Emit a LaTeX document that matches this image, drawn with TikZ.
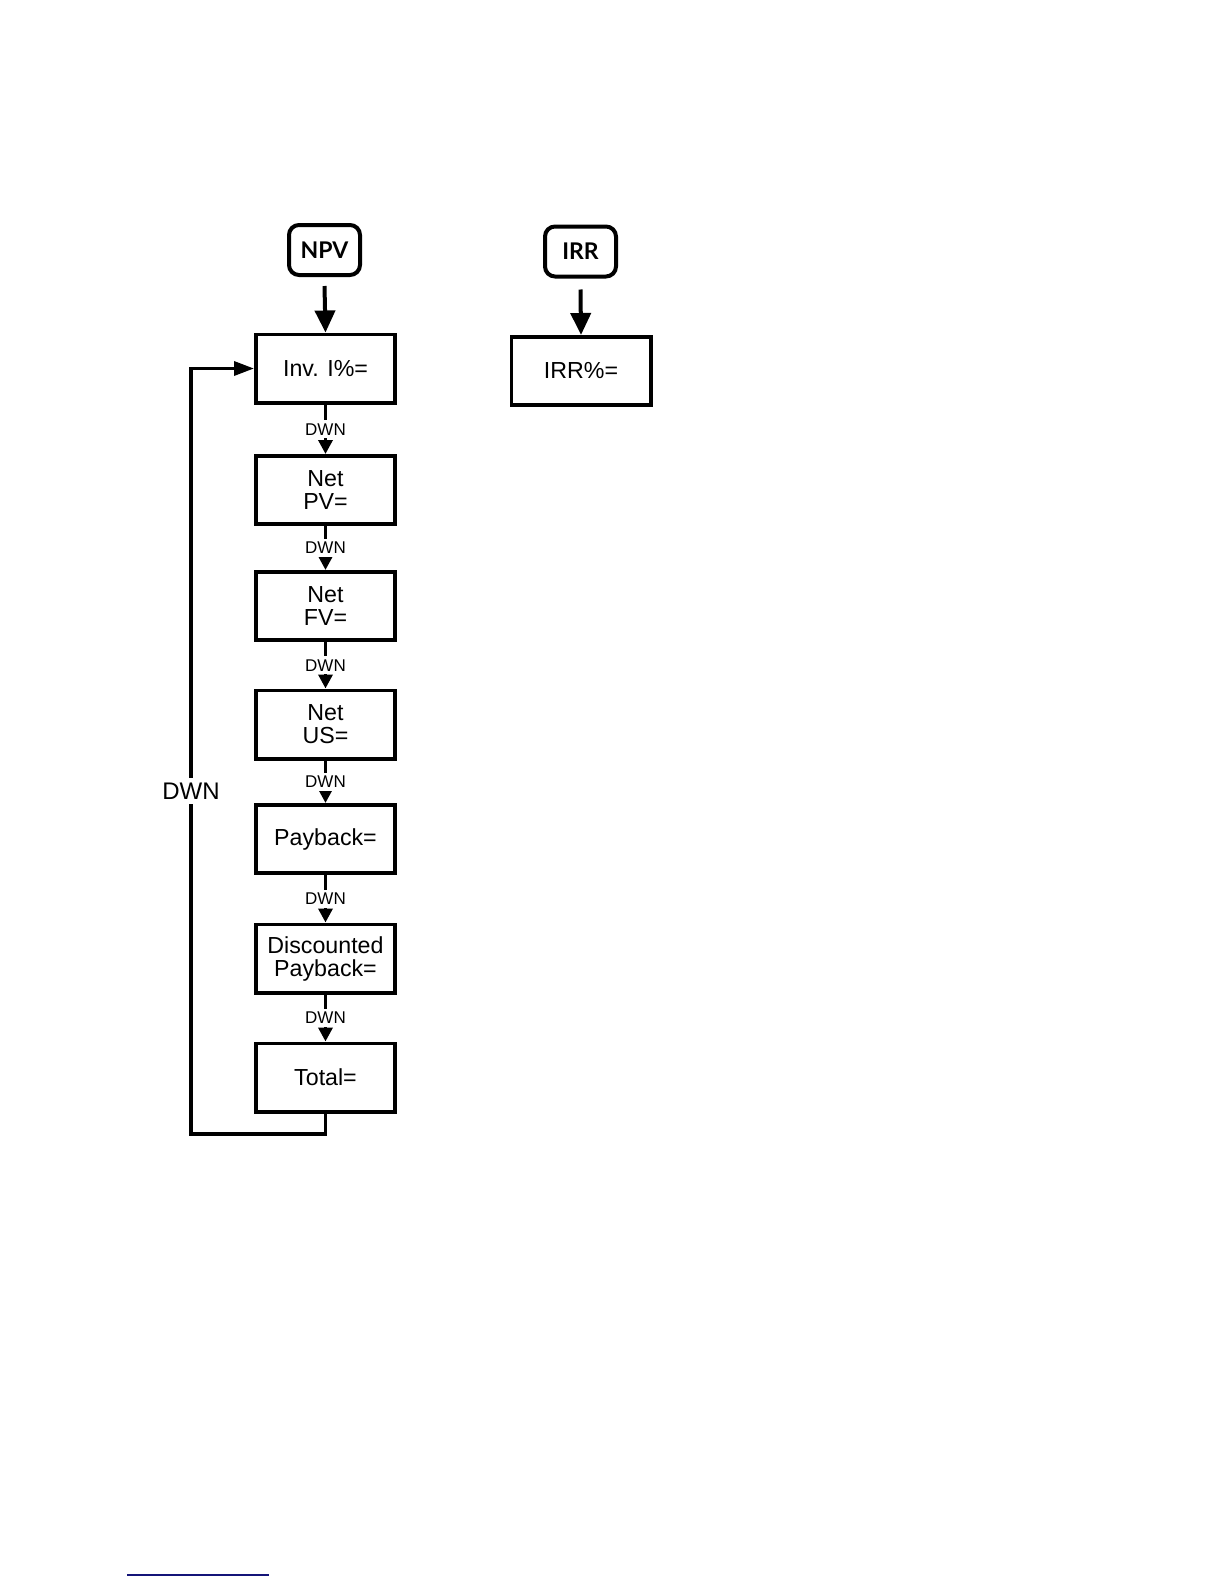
\documentclass[tikz,border=0pt]{standalone}
\usepackage{fontspec}
\setmainfont{Liberation Sans}
\newfontfamily\keyfont{Lato}
\usetikzlibrary{arrows.meta}
\definecolor{navyline}{RGB}{20,20,120}
\begin{document}
\begin{tikzpicture}[x=0.5pt,y=-0.5pt,
  stepbox/.style={draw, line width=1.8pt, minimum width=69.7pt, minimum height=34.2pt,
    align=center, inner sep=0pt, font=\fontsize{11.6}{11.5}\selectfont},
  keybox/.style={draw, line width=2pt, rounded corners=5pt, minimum width=35.5pt,
    minimum height=25pt, inner sep=0pt, font=\keyfont\bfseries\fontsize{11.5}{12}\selectfont},
  dwnarr/.style={line width=1.7pt, -{Triangle[width=7pt,length=7pt]}},
  keyarr/.style={line width=2pt, -{Triangle[width=10pt,length=11pt]}},
  looparr/.style={line width=1.7pt, -{Triangle[width=7pt,length=10pt]}},
  dwnlab/.style={fill=white, inner xsep=0.6pt, inner ysep=1.6pt, font=\fontsize{8.5}{9}\selectfont},
  biglab/.style={fill=white, inner sep=1.5pt, inner ysep=2.5pt, font=\fontsize{12}{12}\selectfont}
]
\useasboundingbox (0,0) rectangle (1224,1584);
\fill[white] (0,0) rectangle (1224,1584);

\node[keybox] (npv) at (324.5,250) {NPV};
\node[keybox] (irr) at (580.5,251.5) {IRR};

\node[stepbox] (inv) at (325.5,368.5) {Inv. I\%=};
\node[stepbox] (irrp) at (581,371) {IRR\%=};
\node[stepbox] (pv) at (325.5,490) {Net\\PV=};
\node[stepbox] (fv) at (325.5,606) {Net\\FV=};
\node[stepbox] (us) at (325.5,724.5) {Net\\US=};
\node[stepbox] (pay) at (325.5,839) {Payback=};
\node[stepbox] (disc) at (325.5,958.5) {Discounted\\Payback=};
\node[stepbox] (tot) at (325.5,1077.5) {Total=};

\draw[keyarr] ([yshift=-4.5pt]npv.south) -- (inv.north);
\draw[keyarr] ([yshift=-5.5pt]irr.south) -- (irrp.north);

\draw[dwnarr] (inv) -- node[dwnlab] {DWN} (pv);
\draw[dwnarr] (pv) -- node[dwnlab] {DWN} (fv);
\draw[dwnarr] (fv) -- node[dwnlab] {DWN} (us);
\draw[dwnarr] (us) -- node[dwnlab] {DWN} (pay);
\draw[dwnarr] (pay) -- node[dwnlab] {DWN} (disc);
\draw[dwnarr] (disc) -- node[dwnlab] {DWN} (tot);

\coordinate (lb) at (191,1134);
\draw[looparr] (tot.south) |- (lb) |- (inv.west);
\node[biglab] (dwnbig) at (191,791) {DWN};

\draw[navyline, line width=0.8pt] (127,1575) -- (269,1575);
\end{tikzpicture}
\end{document}
